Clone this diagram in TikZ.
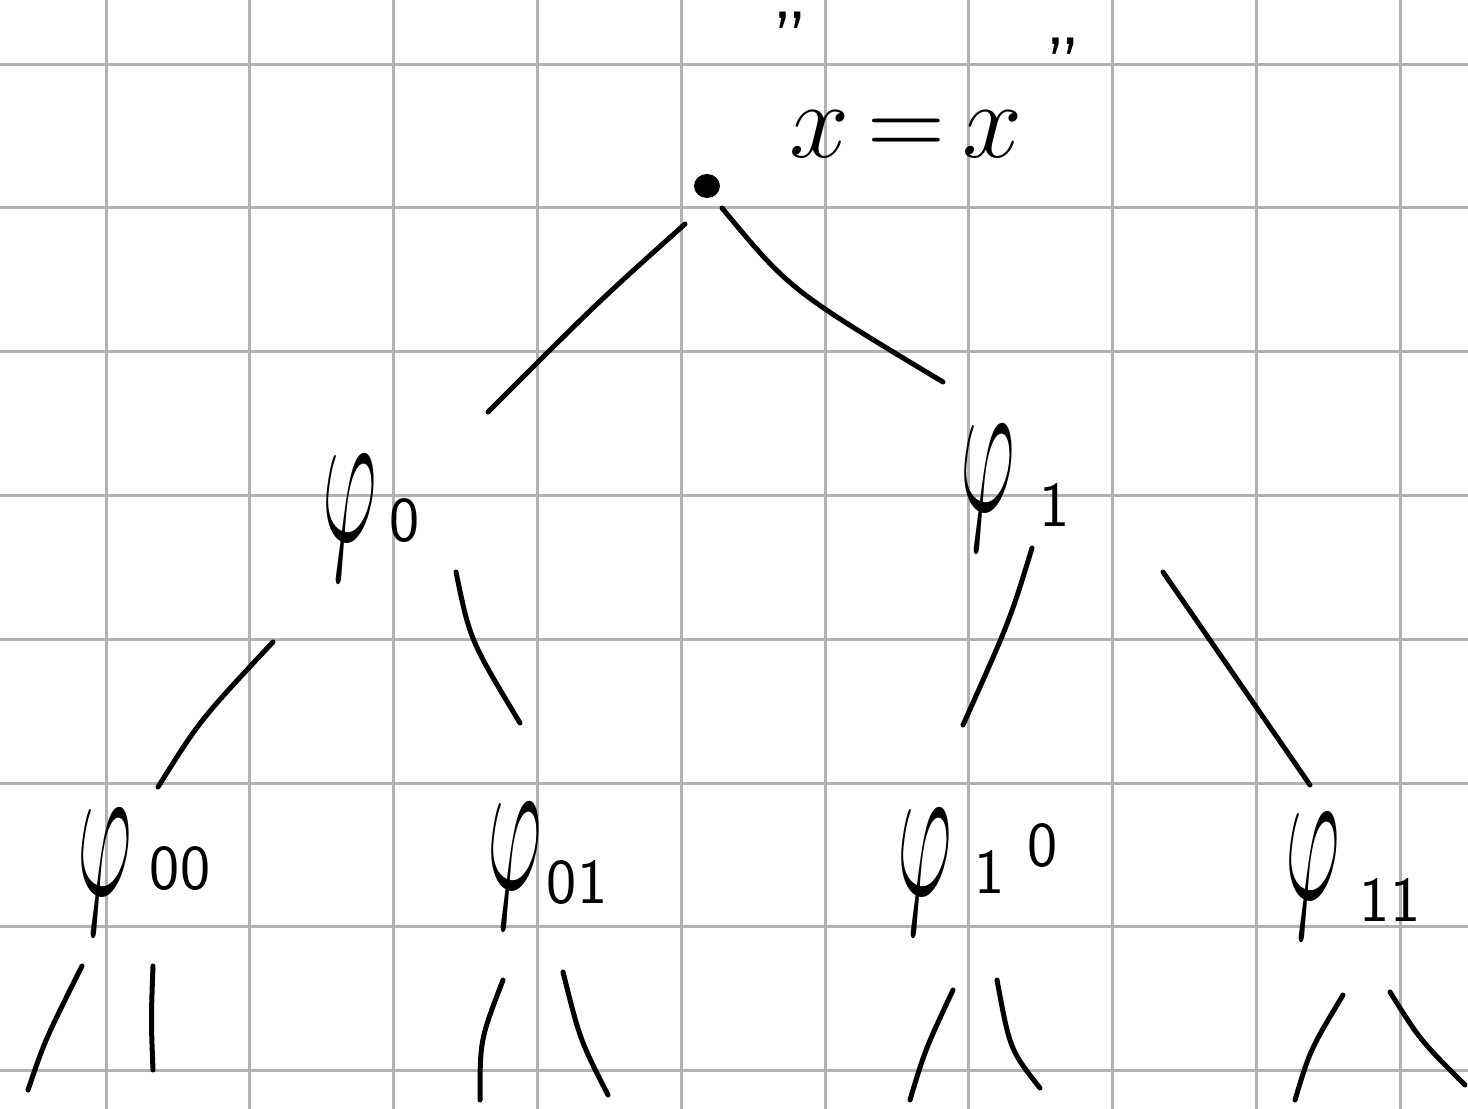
\RequirePackage{fix-cm}
\documentclass[tikz,border=0pt]{standalone}
\usepackage{graphicx}
\tikzset{
  gridline/.style={draw=black!30, line width=3pt},
  handline/.style={draw=black, line width=5pt, line cap=round, line join=round},
  phinode/.style={inner sep=0pt, font=\fontsize{100}{100}\selectfont},
  subnode/.style={inner sep=0pt, font=\fontsize{64}{64}\selectfont\sffamily},
  quotenode/.style={inner sep=0pt, font=\fontsize{80}{80}\selectfont\sffamily},
  eqnode/.style={inner sep=0pt, font=\fontsize{108}{108}\selectfont}
}
\newcommand{\hphi}{\scalebox{0.85}[2.0]{$\varphi$}}
\begin{document}
\begin{tikzpicture}[x=1pt,y=-1pt]
\useasboundingbox (0,0) rectangle (1468,1109);
\fill[white] (0,0) rectangle (1468,1109);
% grid
\foreach \i in {0,...,9} {
  \draw[gridline] ({106+143.8*\i},0) -- ({106+143.8*\i},1109);
}
\foreach \j in {0,...,7} {
  \draw[gridline] (0,{64+143.8*\j}) -- (1468,{64+143.8*\j});
}
% root
\fill (707,186) ellipse (13 and 12);
\node[inner sep=0pt] (root) at (707,186) {};
\node[eqnode] (eq) at (906,134) {$x\,{=}\,x$};
\node[quotenode] (ql) at (790,40) {''};
\node[quotenode] (qr) at (1063,66) {''};
% level 1
\node[phinode] (p0) at (350,518) {\hphi};
\node[subnode] (p0s) at (405,520) {0};
\node[phinode] (p1) at (988,488) {\hphi};
\node[subnode] (p1s) at (1055,505) {1};
% level 2
\node[phinode] (p00) at (105,872) {\hphi};
\node[subnode] (p00s) at (180,868) {00};
\node[phinode] (p01) at (515,866) {\hphi};
\node[subnode] (p01s) at (577,882) {01};
\node[phinode] (p10) at (925,872) {\hphi};
\node[subnode] (p10a) at (990,872) {1};
\node[subnode] (p10b) at (1043,845) {0};
\node[phinode] (p11) at (1313,876) {\hphi};
\node[subnode] (p11s) at (1390,900) {11};
% connector end points
\coordinate (a1) at (685,224); \coordinate (a2) at (488,412);
\coordinate (b1) at (722,208); \coordinate (b2) at (943,382);
\coordinate (c1) at (273,642); \coordinate (c2) at (158,787);
\coordinate (d1) at (456,572); \coordinate (d2) at (520,723);
\coordinate (e1) at (1032,548); \coordinate (e2) at (963,725);
\coordinate (f1) at (1163,572); \coordinate (f2) at (1310,785);
\coordinate (g1) at (82,966); \coordinate (g2) at (28,1090);
\coordinate (h1) at (153,966); \coordinate (h2) at (153,1070);
\coordinate (i1) at (503,980); \coordinate (i2) at (480,1100);
\coordinate (j1) at (563,972); \coordinate (j2) at (608,1095);
\coordinate (k1) at (953,990); \coordinate (k2) at (910,1100);
\coordinate (l1) at (997,980); \coordinate (l2) at (1040,1088);
\coordinate (m1) at (1343,995); \coordinate (m2) at (1295,1100);
\coordinate (n1) at (1390,992); \coordinate (n2) at (1465,1085);
% connectors
\draw[handline] (a1) .. controls (600,300) .. (a2);
\draw[handline] (b1) .. controls (790,290) .. (b2);
\draw[handline] (c1) .. controls (200,720) .. (c2);
\draw[handline] (d1) .. controls (470,640) .. (d2);
\draw[handline] (e1) .. controls (1010,620) .. (e2);
\draw[handline] (f1) -- (f2);
\draw[handline] (g1) .. controls (45,1040) .. (g2);
\draw[handline] (h1) .. controls (151,1020) .. (h2);
\draw[handline] (i1) .. controls (480,1040) .. (i2);
\draw[handline] (j1) .. controls (580,1040) .. (j2);
\draw[handline] (k1) .. controls (925,1050) .. (k2);
\draw[handline] (l1) .. controls (1010,1050) .. (l2);
\draw[handline] (m1) .. controls (1310,1050) .. (m2);
\draw[handline] (n1) .. controls (1420,1040) .. (n2);
\end{tikzpicture}
\end{document}
